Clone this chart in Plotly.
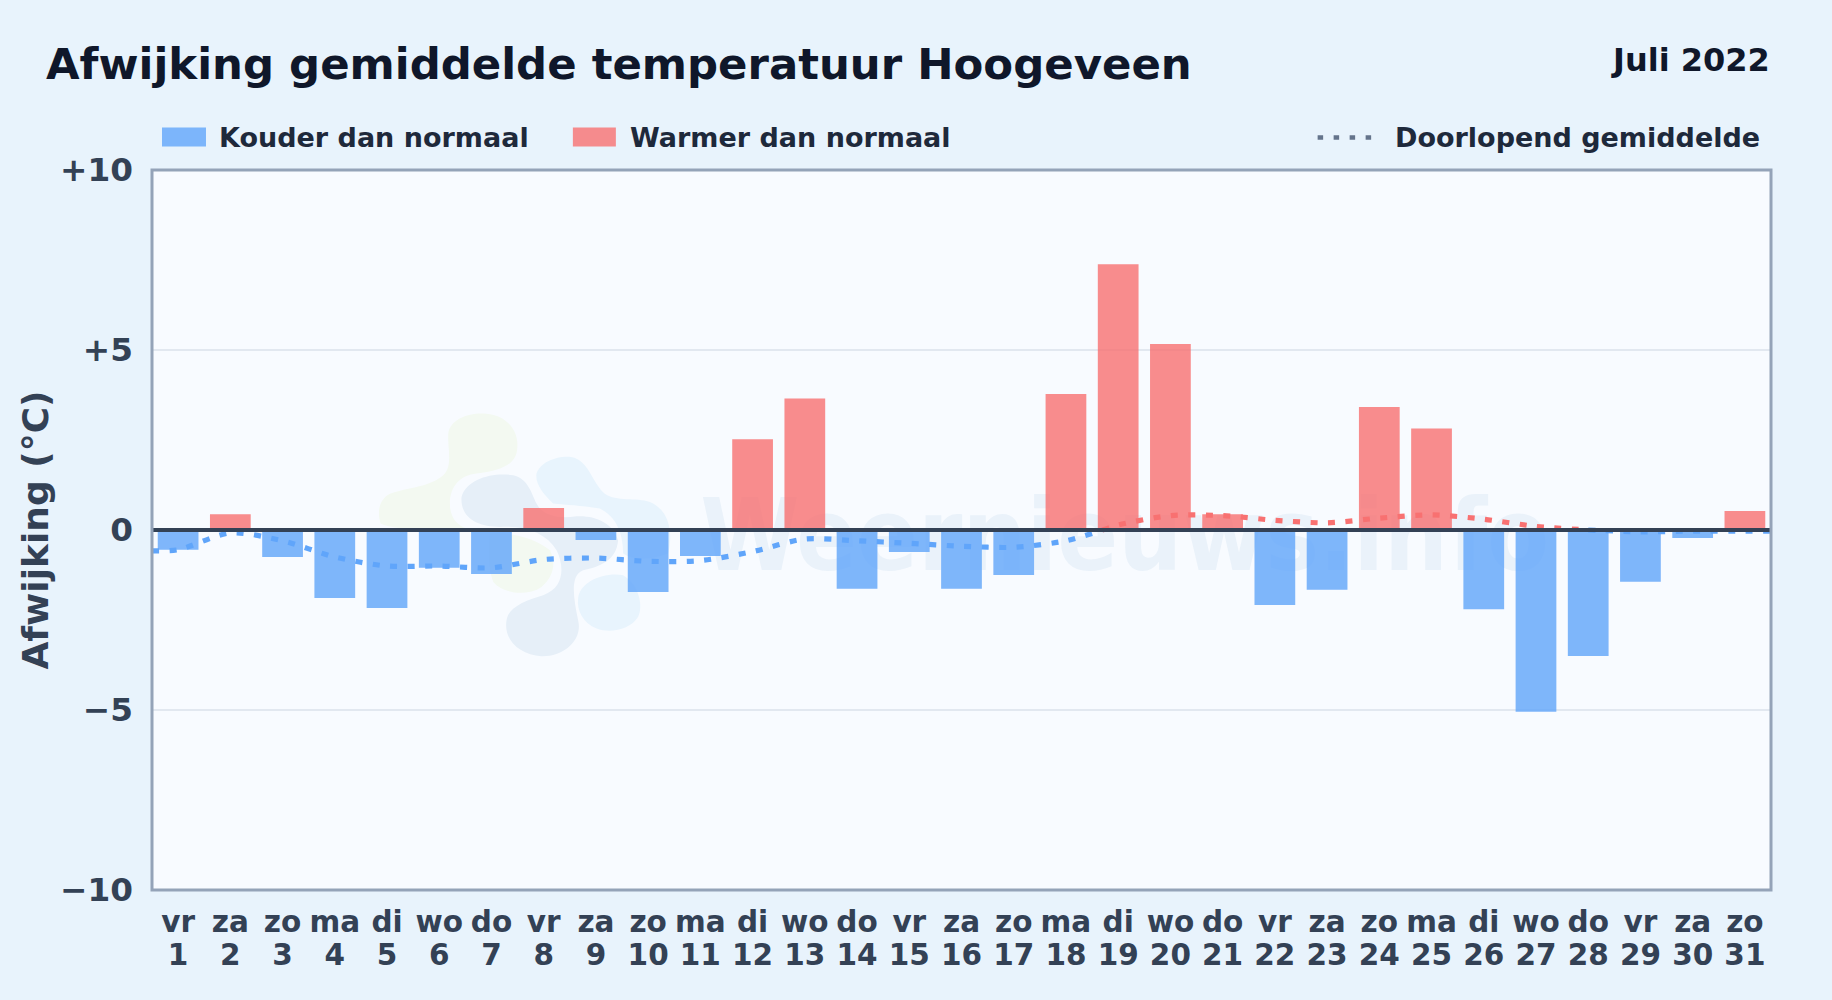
import plotly.graph_objects as go

weekdays = ["vr","za","zo","ma","di","wo","do","vr","za","zo","ma","di","wo","do","vr","za","zo","ma","di","wo","do","vr","za","zo","ma","di","wo","do","vr","za","zo"]
days = list(range(1, 32))
deviation = [-0.55,0.44,-0.75,-1.89,-2.17,-1.05,-1.22,0.61,-0.28,-1.72,-0.72,2.52,3.65,-1.63,-0.61,-1.63,-1.25,3.78,7.38,5.17,0.44,-2.08,-1.66,3.42,2.82,-2.2,-5.05,-3.5,-1.44,-0.22,0.53]

avg_cold_x = [0.5,1,2,3,4,5,6,7,8,9,10,11,12,13,14,15,16,17,18,18.7]
avg_cold_y = [-0.58,-0.55,-0.08,-0.3,-0.75,-1.0,-1.0,-1.05,-0.82,-0.78,-0.87,-0.85,-0.6,-0.25,-0.3,-0.37,-0.45,-0.48,-0.3,0.0]
avg_warm_x = [18.7,19,20,21,22,23,24,25,26,27,28]
avg_warm_y = [0.0,0.14,0.4,0.4,0.27,0.2,0.33,0.42,0.3,0.1,0.0]
avg_end_x = [28,29,30,31,31.5]
avg_end_y = [0.0,-0.05,-0.03,-0.03,-0.03]

y_ticks = [-10,-5,0,5,10]
y_labels = ["−10","−5","0","+5","+10"]

FONT = "DejaVu Sans"
BLUE = "#60a5fa"
RED = "#f87171"
W, H = 1832, 1000
L, R, T, B = 152, 1771.5, 169.5, 890


def px(x):
    return (x - L) / (R - L)


def py(y):
    return (B - y) / (B - T)


def blob(points):
    """Build a paper-space closed bezier path from watermark-logo pixel points."""
    out = []
    for i, p in enumerate(points):
        pts = " ".join(f"{px(360 + p[j] / 3):.4f},{py(390 + p[j + 1] / 3):.4f}" for j in range(0, len(p), 2))
        out.append(("M" if i == 0 else "C") + pts)
    return " ".join(out) + " Z"


logo = [
    ("#f3f9f1", [(265,130),(270,85,330,65,380,70),(440,75,478,120,472,175),(468,225,420,240,350,250),(300,255,270,290,270,340),(270,380,290,405,320,415),(200,420,100,420,62,400),(50,360,60,325,90,310),(150,290,210,290,250,255),(280,225,262,175,265,130)]),
    ("#f3f9f1", [(390,430),(450,425,520,440,570,480),(590,520,580,560,545,590),(500,620,430,610,400,575),(385,540,385,480,390,430)]),
    ("#e6eff8", [(305,320),(320,265,400,245,460,255),(505,265,515,310,530,340),(550,380,600,385,650,378),(710,375,760,400,775,450),(770,510,720,530,670,540),(630,555,640,620,655,690),(670,750,610,800,545,798),(480,795,430,750,440,690),(445,650,500,630,550,615),(620,590,610,520,590,480),(560,430,500,405,420,410),(350,410,300,380,305,320)]),
    ("#e8f4fd", [(530,250),(545,205,620,190,650,205),(690,225,700,280,735,310),(770,335,830,320,870,335),(930,360,940,430,925,490),(870,510,820,510,790,490),(790,430,770,380,720,355),(660,345,620,345,580,340),(550,310,525,280,530,250)]),
    ("#e8f4fd", [(655,625),(660,575,730,545,790,555),(840,585,850,650,835,680),(810,720,750,730,710,715),(670,700,650,660,655,625)]),
]

cold = [v if v < 0 else None for v in deviation]
warm = [v if v >= 0 else None for v in deviation]

fig = go.Figure()
fig.add_bar(x=days, y=cold, name="Kouder dan normaal", width=0.78, marker=dict(color=BLUE, line_width=0), opacity=0.8, showlegend=False)
fig.add_bar(x=days, y=warm, name="Warmer dan normaal", width=0.78, marker=dict(color=RED, line_width=0), opacity=0.8, showlegend=False)
for xs, ys, col, ax in [(avg_cold_x, avg_cold_y, BLUE, "x"), (avg_warm_x, avg_warm_y, RED, "x"), (avg_end_x, avg_end_y, BLUE, "x2")]:
    fig.add_scatter(x=xs, y=ys, xaxis=ax, mode="lines", name="Doorlopend gemiddelde", showlegend=False,
                    line=dict(color=col, width=5.2, dash="7px,10.5px", shape="spline", smoothing=0.8))

shapes = []
for col, pts in logo:
    shapes.append(dict(type="path", xref="paper", yref="paper", path=blob(pts), fillcolor=col, line_width=0, layer="below"))
shapes.append(dict(type="rect", xref="paper", yref="paper", x0=px(690), x1=px(1560), y0=py(590), y1=py(466),
                   fillcolor="rgba(0,0,0,0)", line_width=0, layer="below",
                   label=dict(text="Weernieuws.info", font=dict(family="DejaVu Sans Condensed", size=100, weight=700, color="rgba(70,130,190,0.075)"),
                              textposition="middle center")))
shapes.append(dict(type="line", xref="paper", yref="y", x0=0, x1=1, y0=0, y1=0, line=dict(color="#334155", width=4), layer="above"))
shapes.append(dict(type="rect", xref="paper", yref="paper", x0=0, x1=1, y0=0, y1=1, line=dict(color="#94a3b8", width=3), fillcolor="rgba(0,0,0,0)", layer="above"))
# legend swatches
shapes.append(dict(type="rect", xref="paper", yref="paper", x0=px(162), x1=px(206), y0=py(146), y1=py(127), fillcolor=BLUE, opacity=0.8, line_width=0))
shapes.append(dict(type="rect", xref="paper", yref="paper", x0=px(573), x1=px(616), y0=py(146), y1=py(127), fillcolor=RED, opacity=0.8, line_width=0))
shapes.append(dict(type="line", xref="paper", yref="paper", x0=px(1318), x1=px(1378), y0=py(137), y1=py(137),
                   line=dict(color="#64748b", width=4.5, dash="5.5px,10.5px")))


def note(text, x, y, size, color, anchor="left"):
    return dict(text=text, x=px(x), y=py(y), xref="paper", yref="paper", showarrow=False, xanchor=anchor, yanchor="middle",
                font=dict(family=FONT, size=size, weight=700, color=color))


annotations = [
    note("Juli 2022", 1773, 59, 32, "#0f172a", "right"),
    note("Kouder dan normaal", 217, 137, 27, "#1e293b"),
    note("Warmer dan normaal", 628, 137, 27, "#1e293b"),
    note("Doorlopend gemiddelde", 1762, 137, 27, "#1e293b", "right"),
]

fig.update_layout(
    width=W, height=H, barmode="overlay", showlegend=False,
    margin=dict(l=L, r=W - R, t=T, b=H - B, pad=0),
    paper_bgcolor="#e8f3fc", plot_bgcolor="#f8fbff",
    font=dict(family=FONT, color="#334155"),
    title=dict(text="Afwijking gemiddelde temperatuur Hoogeveen", x=46 / W, xanchor="left", y=1 - 64 / H, yanchor="middle",
               font=dict(family=FONT, size=43.4, weight=700, color="#0f172a")),
    shapes=shapes, annotations=annotations,
    xaxis=dict(range=[0.5, 31.5], tickmode="array", tickvals=days, ticktext=weekdays, ticks="", showgrid=False, zeroline=False,
               tickangle=0, tickfont=dict(family=FONT, size=29.5, weight=700, color="#334155"), ticklabelstandoff=11),
    xaxis2=dict(range=[0.5, 31.5], overlaying="x", side="bottom", anchor="y", tickmode="array", tickvals=days, ticktext=days, ticks="",
                showgrid=False, zeroline=False, tickangle=0, tickfont=dict(family=FONT, size=29.5, weight=700, color="#334155"), ticklabelstandoff=44),
    yaxis=dict(range=[-10, 10], tickmode="array", tickvals=y_ticks, ticktext=y_labels, ticks="", showgrid=True, gridcolor="#e2e8f0", gridwidth=1.5,
               zeroline=False, tickfont=dict(family=FONT, size=32.7, weight=700, color="#334155"), ticklabelstandoff=18,
               title=dict(text="Afwijking (°C)", font=dict(family=FONT, size=36, weight=700, color="#334155"), standoff=0)),
)

fig.write_html("out.html", post_script="document.body.style.margin='0';", config=dict(displayModeBar=False))
